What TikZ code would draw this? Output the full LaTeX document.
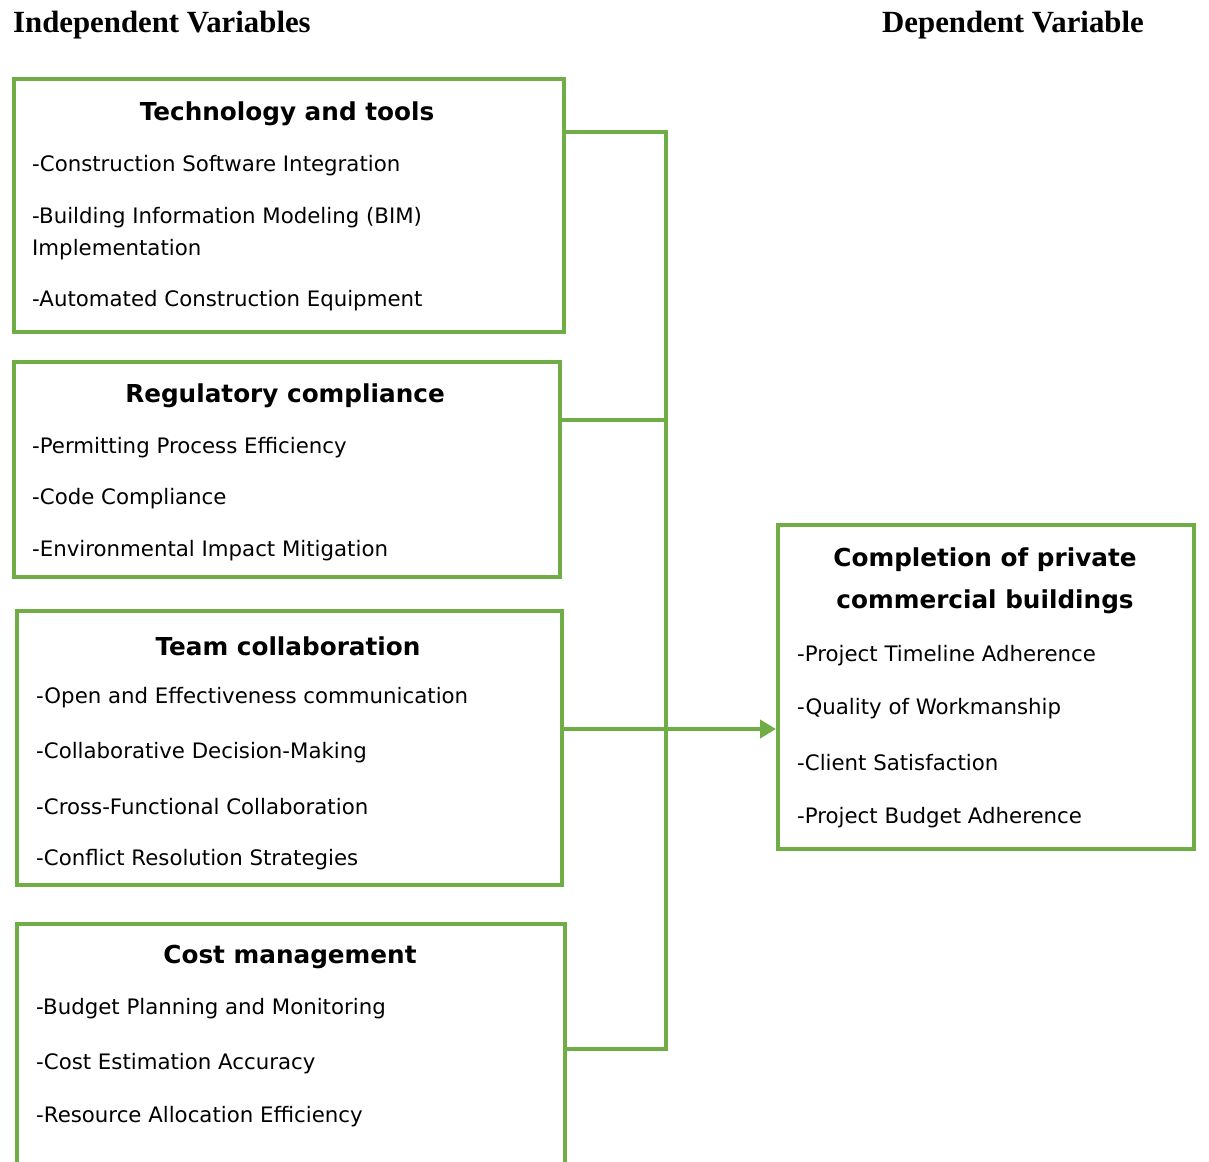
\documentclass[tikz,border=0pt]{standalone}
\usepackage{fontspec}
\setmainfont{DejaVu Sans}
\newfontfamily\headfont{Liberation Serif}
\usetikzlibrary{arrows.meta}
\usetikzlibrary{positioning}
\definecolor{boxgreen}{HTML}{70AD47}

\begin{document}
\begin{tikzpicture}[
    x=1pt, y=-1pt,
    box/.style={rectangle, draw=boxgreen, line width=4pt, anchor=north west,
        inner sep=0, outer sep=0},
    head/.style={font=\headfont\bfseries\fontsize{30.8}{34}\selectfont, anchor=base west, inner sep=0},
    title/.style={font=\bfseries\fontsize{24.7}{42}\selectfont, align=center, inner sep=0, yshift=-2pt},
    item/.style={font=\fontsize{21.3}{32}\selectfont, anchor=west, align=left, inner sep=0, yshift=-2pt},
    link/.style={draw=boxgreen, line width=4pt, line join=miter},
    ]

    \clip (0,0) rectangle (1209,1161);

    \node (indep) [head] at (13,33) {Independent Variables};
    \node (dep) [head] at (882,33) {Dependent Variable};

    % independent variables
    \node (tech) [box, minimum width=550, minimum height=253] at (14,79) {};
    \node (reg) [box, minimum width=546, minimum height=215] at (14,362) {};
    \node (team) [box, minimum width=545, minimum height=274] at (17,611) {};
    \node (cost) [box, minimum width=548, minimum height=256] at (17,924) {};

    \node (tech-title) [title] at (287,112) {Technology and tools};
    \node (reg-title) [title] at (285,394) {Regulatory compliance};
    \node (team-title) [title] at (288,644) {Team collaboration};
    \node (cost-title) [title] at (290,955) {Cost management};

    \foreach \t/\y [count=\i] in {{-Construction Software Integration}/164,
        {-Building Information Modeling (BIM)\\Implementation}/232,
        {-Automated Construction Equipment}/299} {
        \node (tech-\i) [item] at (32,\y) {\t};
    }
    \foreach \t/\y [count=\i] in {{-Permitting Process Efficiency}/446,
        {-Code Compliance}/497, {-Environmental Impact Mitigation}/549} {
        \node (reg-\i) [item] at (32,\y) {\t};
    }
    \foreach \t/\y [count=\i] in {{-Open and Effectiveness communication}/696,
        {-Collaborative Decision-Making}/751,
        {-Cross-Functional Collaboration}/805,
        {-Conflict Resolution Strategies}/858} {
        \node (team-\i) [item] at (36,\y) {\t};
    }
    \foreach \t/\y [count=\i] in {{-Budget Planning and Monitoring}/1007,
        {-Cost Estimation Accuracy}/1062,
        {-Resource Allocation Efficiency}/1115} {
        \node (cost-\i) [item] at (36,\y) {\t};
    }

    % dependent variable
    \node (goal) [box, minimum width=416, minimum height=324] at (778,525) {};
    \node (goal-title) [title] at (985,579) {Completion of private\\commercial buildings};
    \foreach \t/\y [count=\i] in {{-Project Timeline Adherence}/654,
        {-Quality of Workmanship}/707, {-Client Satisfaction}/761,
        {-Project Budget Adherence}/816} {
        \node (goal-\i) [item] at (797,\y) {\t};
    }

    % connectors
    \coordinate (bus-top) at (666,132);
    \coordinate (bus-reg) at (666,420);
    \coordinate (bus-mid) at (666,729);
    \coordinate (bus-bot) at (666,1049);
    \draw [link] (tech.east |- bus-top) -- (bus-top) -- (bus-bot) -- (cost.east |- bus-bot);
    \draw [link] (reg.east |- bus-reg) -- (bus-reg);
    \draw [link, -{Triangle[length=16pt, width=18pt]}, shorten >=2pt]
        (team.east |- bus-mid) -- (goal.west |- bus-mid);
\end{tikzpicture}
\end{document}
